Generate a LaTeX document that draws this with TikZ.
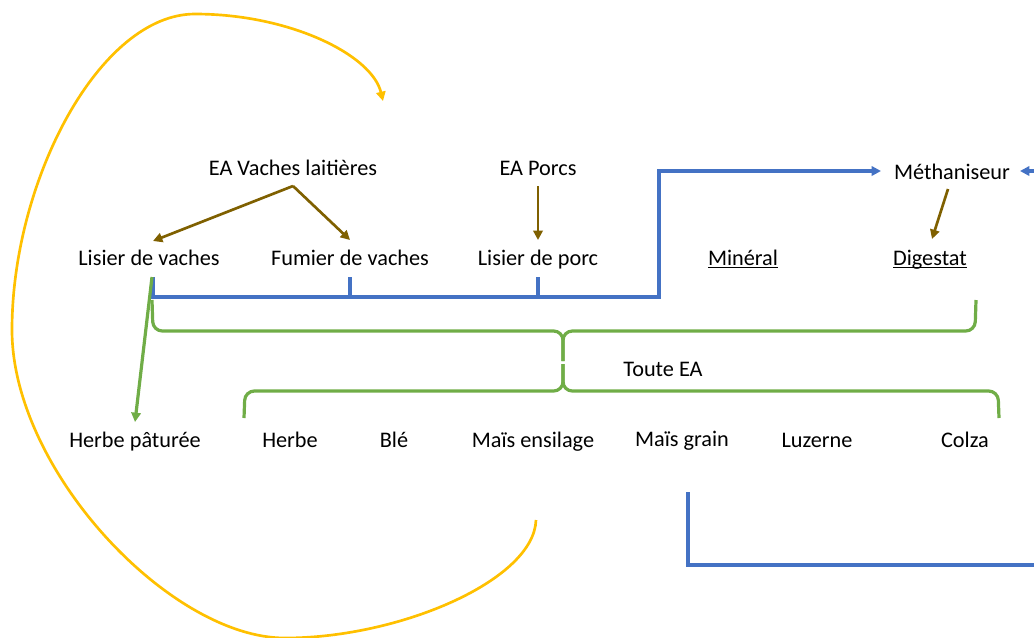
\documentclass[tikz,border=0pt]{standalone}
\usepackage{fontspec}
\setmainfont{Carlito}
\usetikzlibrary{arrows.meta,calc}
\definecolor{obl}{HTML}{4472C4}
\definecolor{ogr}{HTML}{70AD47}
\definecolor{oye}{HTML}{FFC000}
\definecolor{obr}{HTML}{7F6000}
\begin{document}
\begin{tikzpicture}[x=0.75pt,y=-0.75pt,
  lbl/.style={anchor=base,inner sep=0pt,font=\fontsize{16.7}{20}\selectfont},
  tip/.style={-{Triangle[length=7pt,width=7pt]}},
  brarrow/.style={draw=obr,line width=2pt,tip},
  blueline/.style={draw=obl,line width=2.4pt},
  bluearrow/.style={blueline,tip},
  greenline/.style={draw=ogr,line width=2.4pt},
  greenarrow/.style={greenline,tip},
  yellowarrow/.style={draw=oye,line width=2pt,tip}]
\useasboundingbox (0,0) rectangle (1034,637);
\clip (0,0) rectangle (1034,637);
% labels
\node[lbl] (vl) at (293,175) {EA Vaches laitières};
\node[lbl] (eap) at (538,175) {EA Porcs};
\node[lbl] (meth) at (952,179) {Méthaniseur};
\node[lbl] (lv) at (149,265) {Lisier de vaches};
\node[lbl] (fv) at (350,265) {Fumier de vaches};
\node[lbl] (lp) at (538,265) {Lisier de porc};
\node[lbl] (min) at (743,265) {\underline{Minéral}};
\node[lbl] (dig) at (930,265) {\underline{\smash{Digestat}}};
\node[lbl] (toute) at (663,376) {Toute EA};
\node[lbl] (hp) at (135,447) {Herbe pâturée};
\node[lbl] (herbe) at (290,447) {Herbe};
\node[lbl] (ble) at (394,447) {Blé};
\node[lbl] (mens) at (533,447) {Maïs ensilage};
\node[lbl] (mgrain) at (682,446) {Maïs grain};
\node[lbl] (luz) at (817,447) {Luzerne};
\node[lbl] (colza) at (965,447) {Colza};
% brown arrows
\draw[brarrow] ($(vl.base)+(0,11)$) -- ($(lv.base)+(4,-24)$);
\draw[brarrow] ($(vl.base)+(0,11)$) -- ($(fv.base)+(0,-25)$);
\draw[brarrow] ($(eap.base)+(0,11)$) -- ($(lp.base)+(0,-25)$);
\draw[brarrow] ($(meth.base)+(-4,10)$) -- ($(dig.base)+(2,-26)$);
% blue network
\coordinate (bj) at (659,297);
\draw[bluearrow] ($(lv.base)+(4,12)$) |- (bj) -- (659,171) -- ($(meth.base)+(-71,-8)$);
\draw[blueline] ($(fv.base)+(0,12)$) -- ($(fv.base)+(0,32)$);
\draw[blueline] ($(lp.base)+(0,12)$) -- ($(lp.base)+(0,32)$);
\draw[bluearrow] (1045,171) -- ($(meth.base)+(68,-8)$);
\draw[blueline] ($(mgrain.base)+(6,46)$) |- (1045,565);
% green braces
\draw[greenline,rounded corners=7pt] (152,300) -- (153,331) -- (563,331) -- (563,361);
\draw[greenline,rounded corners=7pt] (563,361) -- (563,331) -- (975,331) -- (976,300);
\draw[greenline,rounded corners=7pt] (244,418) -- (245,391) -- (563,391) -- (563,364);
\draw[greenline,rounded corners=7pt] (563,364) -- (563,391) -- (998,391) -- (999,418);
% green arrow
\draw[greenarrow] ($(lv.base)+(3,12)$) -- ($(hp.base)+(0,-25)$);
% yellow loop
\coordinate (ys) at ($(mens.base)+(3,73)$);
\coordinate (yend) at (383,101);
\draw[yellowarrow] (ys) .. controls (534,580) and (400,638) .. (285,638)
  .. controls (170,638) and (12,470) .. (12,330)
  .. controls (12,180) and (100,14) .. (195,14)
  .. controls (290,14) and (372,55) .. (yend);
\end{tikzpicture}
\end{document}
